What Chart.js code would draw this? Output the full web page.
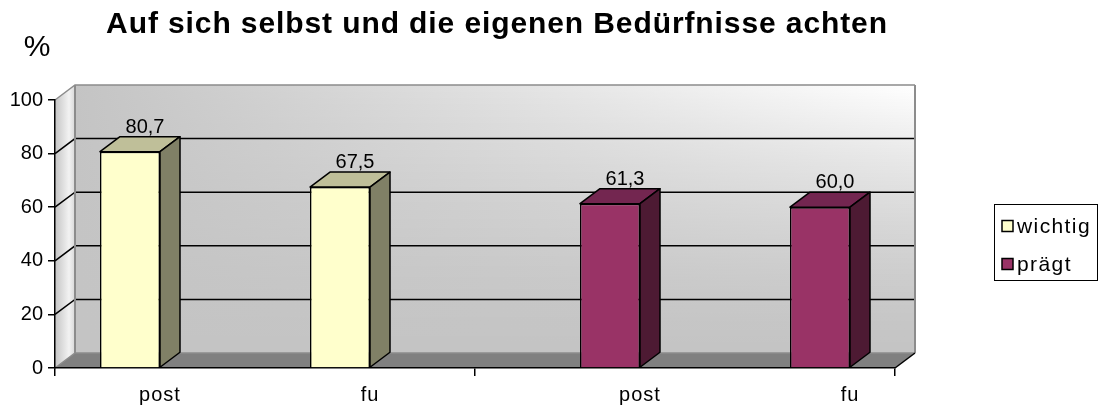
<!DOCTYPE html>
<html>
<head>
<meta charset="utf-8">
<script src="https://cdn.jsdelivr.net/npm/chart.js@4.4.1/dist/chart.umd.min.js"></script>
<style>
  body { margin: 0; background: #fff; }
  canvas { display: block; }
</style>
</head>
<body>
<canvas id="chart" width="1099" height="405"></canvas>
<script>
const title = "Auf sich selbst und die eigenen Bedürfnisse achten";
const yTitle = "%";
const categories = ["post", "fu", "post", "fu"];
const seriesNames = ["wichtig", "prägt"];
const wichtig = [80.7, 67.5, null, null];
const praegt = [null, null, 61.3, 60.0];
const yMin = 0, yMax = 100, yStep = 20;

const FONT = "'Liberation Sans', Arial, sans-serif";
const DX = 20, DY = 15; // 3d depth

// front, top, side
const faces = [
  ["#ffffcc", "#bfbf99", "#808066"],
  ["#993366", "#732650", "#4d1a33"]
];

function grey(v) {
  v = Math.round(v);
  return "rgb(" + v + "," + v + "," + v + ")";
}

function fmt(v) {
  return v.toFixed(1).replace(".", ",");
}

const walls = {
  id: "walls",
  beforeDraw(chart) {
    const ctx = chart.ctx;
    const a = chart.chartArea;
    const ys = chart.scales.y;
    const top = ys.getPixelForValue(yMax), bot = ys.getPixelForValue(yMin);
    const x0 = a.left + DX, x1 = a.right + DX;
    const t = top - DY, b = bot - DY;
    ctx.save();

    // back wall, lighter towards top right
    for (let yy = Math.floor(t); yy < b; yy++) {
      const fy = Math.pow((b - yy) / (b - t), 1.5);
      const g = ctx.createLinearGradient(x0, 0, x1, 0);
      g.addColorStop(0, grey(196));
      g.addColorStop(0.5, grey(196 + 59 * fy * 0.5));
      g.addColorStop(1, grey(196 + 59 * fy));
      ctx.fillStyle = g;
      ctx.fillRect(x0, yy, x1 - x0, 1);
    }

    // left side wall
    const lg = ctx.createLinearGradient(a.left, 0, x0, 0);
    lg.addColorStop(0, "#c4c4c4");
    lg.addColorStop(0.7, "#f2f2f2");
    lg.addColorStop(1, "#d8d8d8");
    ctx.fillStyle = lg;
    ctx.beginPath();
    ctx.moveTo(a.left, bot);
    ctx.lineTo(x0, b);
    ctx.lineTo(x0, t);
    ctx.lineTo(a.left, top);
    ctx.closePath();
    ctx.fill();

    // floor
    ctx.fillStyle = "#808080";
    ctx.beginPath();
    ctx.moveTo(a.left, bot);
    ctx.lineTo(a.right, bot);
    ctx.lineTo(x1, b);
    ctx.lineTo(x0, b);
    ctx.closePath();
    ctx.fill();

    // grid lines on left wall and back wall
    ctx.lineWidth = 1.5;
    for (let v = yMin; v <= yMax; v += yStep) {
      const yf = ys.getPixelForValue(v);
      const yb = yf - DY;
      ctx.strokeStyle = (v === yMin || v === yMax) ? "#8c8c8c" : "#000";
      ctx.beginPath();
      ctx.moveTo(a.left, yf);
      ctx.lineTo(x0, yb);
      ctx.lineTo(x1, yb);
      ctx.stroke();
    }

    // wall outlines
    ctx.strokeStyle = "#8c8c8c";
    ctx.lineWidth = 2;
    ctx.beginPath();
    ctx.moveTo(x0, b);
    ctx.lineTo(x0, t);
    ctx.moveTo(x1, t);
    ctx.lineTo(x1, b);
    ctx.stroke();

    // floor front right edge
    ctx.strokeStyle = "#000";
    ctx.lineWidth = 1.5;
    ctx.beginPath();
    ctx.moveTo(a.right, bot);
    ctx.lineTo(x1, b);
    ctx.stroke();
    ctx.restore();
  }
};

const bars3d = {
  id: "bars3d",
  afterDatasetsDraw(chart) {
    const ctx = chart.ctx;
    ctx.save();
    ctx.lineWidth = 1.5;
    ctx.strokeStyle = "#000";
    ctx.lineJoin = "round";
    chart.data.datasets.forEach((ds, di) => {
      const meta = chart.getDatasetMeta(di);
      meta.data.forEach((el, i) => {
        const v = ds.data[i];
        if (v === null) return;
        const l = el.x - el.width / 2, r = el.x + el.width / 2;
        const y = el.y, base = el.base;
        // top
        ctx.fillStyle = faces[di][1];
        ctx.beginPath();
        ctx.moveTo(l, y);
        ctx.lineTo(l + DX, y - DY);
        ctx.lineTo(r + DX, y - DY);
        ctx.lineTo(r, y);
        ctx.closePath();
        ctx.fill();
        ctx.stroke();
        // side
        ctx.fillStyle = faces[di][2];
        ctx.beginPath();
        ctx.moveTo(r, y);
        ctx.lineTo(r + DX, y - DY);
        ctx.lineTo(r + DX, base - DY);
        ctx.lineTo(r, base);
        ctx.closePath();
        ctx.fill();
        ctx.stroke();
        // value label
        ctx.fillStyle = "#000";
        ctx.font = "20px " + FONT;
        ctx.textAlign = "center";
        ctx.textBaseline = "alphabetic";
        ctx.fillText(fmt(v), el.x + 15, y - DY - 4);
      });
    });
    ctx.restore();
  }
};

const texts = {
  id: "texts",
  afterDraw(chart) {
    const ctx = chart.ctx;
    ctx.save();
    ctx.fillStyle = "#000";
    ctx.textAlign = "center";
    ctx.textBaseline = "alphabetic";
    ctx.font = "bold 30px " + FONT;
    ctx.letterSpacing = "0.9px";
    ctx.fillText(title, 497, 33);
    ctx.letterSpacing = "0px";
    ctx.font = "30px " + FONT;
    ctx.fillText(yTitle, 37, 56);

    // category labels sit under the right front edge of each bar
    ctx.font = "20px " + FONT;
    ctx.letterSpacing = "1px";
    categories.forEach((lab, i) => {
      chart.data.datasets.forEach((ds, di) => {
        if (ds.data[i] === null) return;
        const el = chart.getDatasetMeta(di).data[i];
        ctx.fillText(lab, el.x + el.width / 2, chart.chartArea.bottom + 33);
      });
    });

    // legend box
    const bx = 994, by = 204, bw = 103, bh = 76;
    ctx.lineWidth = 1;
    ctx.strokeStyle = "#000";
    ctx.fillStyle = "#fff";
    ctx.fillRect(bx, by, bw, bh);
    ctx.strokeRect(bx + 0.5, by + 0.5, bw, bh);
    ctx.font = "21px " + FONT;
    ctx.letterSpacing = "1.4px";
    ctx.textAlign = "left";
    ctx.textBaseline = "middle";
    chart.data.datasets.forEach((ds, i) => {
      const cy = 226 + i * 38;
      ctx.fillStyle = ds.backgroundColor;
      ctx.fillRect(1002, cy - 5.5, 11, 11);
      ctx.lineWidth = 1.5;
      ctx.strokeRect(1002, cy - 5.5, 11, 11);
      ctx.fillStyle = "#000";
      ctx.fillText(ds.label, 1017, cy + 1);
    });
    ctx.restore();
  }
};

new Chart(document.getElementById("chart"), {
  type: "bar",
  data: {
    labels: categories,
    datasets: [
      { label: seriesNames[0], data: wichtig, backgroundColor: faces[0][0] },
      { label: seriesNames[1], data: praegt, backgroundColor: faces[1][0] }
    ]
  },
  options: {
    responsive: false,
    animation: false,
    devicePixelRatio: 1,
    layout: { padding: { top: 100, right: 204, left: 0, bottom: 0 } },
    datasets: {
      bar: {
        borderColor: "#000",
        borderWidth: 1.5,
        categoryPercentage: 120 / 210,
        barPercentage: 1
      }
    },
    plugins: {
      legend: { display: false },
      title: { display: false },
      tooltip: { enabled: false }
    },
    scales: {
      x: {
        afterFit: (s) => { s.height = 37; },
        grid: {
          drawOnChartArea: false,
          tickLength: 8,
          lineWidth: 1.5,
          color: (c) => (c.index === undefined || c.index % 2 === 0) ? "#000" : "rgba(0,0,0,0)"
        },
        border: { color: "#000", width: 1.5 },
        ticks: { display: false }
      },
      y: {
        min: yMin,
        max: yMax,
        afterFit: (s) => { s.width = 55; },
        grid: { drawOnChartArea: false, tickLength: 7, lineWidth: 1.5, color: "#000" },
        border: { color: "#000", width: 1.5 },
        ticks: { stepSize: yStep, color: "#000", font: { family: FONT, size: 20 }, padding: 5 }
      }
    }
  },
  plugins: [walls, bars3d, texts]
});
</script>
</body>
</html>
